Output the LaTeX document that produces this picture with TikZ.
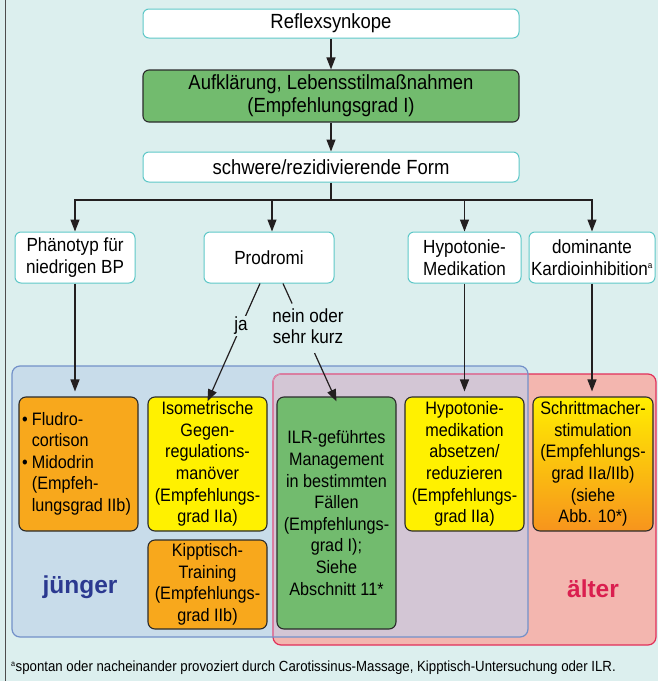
\documentclass[tikz,border=0pt]{standalone}
\usepackage{fontspec}
\setmainfont[FakeStretch=0.9]{Liberation Sans}
\newfontfamily\widefam{Liberation Sans}
\usetikzlibrary{arrows.meta,calc}

\definecolor{bgc}{HTML}{DCEFEE}
\definecolor{tealline}{HTML}{5EC8C8}
\definecolor{boxline}{HTML}{2B2B2B}
\definecolor{arrowc}{HTML}{231F20}
\definecolor{greenf}{HTML}{72BB6E}
\definecolor{orangef}{HTML}{F8A81C}
\definecolor{yellowf}{HTML}{FFF100}
\definecolor{gradtop}{HTML}{FFEE00}
\definecolor{gradbot}{HTML}{F7941D}
\definecolor{bluef}{HTML}{C8DCEA}
\definecolor{blueline}{HTML}{7391C9}
\definecolor{redf}{HTML}{F3B6AF}
\definecolor{redline}{HTML}{E2305A}
\definecolor{redsoft}{HTML}{D98AAE}
\definecolor{mixf}{HTML}{D3C6D5}
\definecolor{youngc}{HTML}{2B3990}
\definecolor{oldc}{HTML}{DA1F4F}
\definecolor{rulec}{HTML}{4D4D4D}

\newcommand\topfont{\fontsize{20.5}{23}\selectfont}
\newcommand\midfont{\fontsize{19}{21.5}\selectfont}
\newcommand\boxfont{\fontsize{18}{21.6}\selectfont}
\newcommand\notefont{\fontsize{14.7}{16}\selectfont}
\newcommand\agefont{\widefam\bfseries\fontsize{24.5}{25}\selectfont}

\tikzset{
  base/.style={rounded corners=6pt, align=center, inner sep=0pt, font=\boxfont},
  tealbox/.style={base, draw=tealline, line width=1pt, fill=white},
  darkbox/.style={base, draw=boxline, line width=1.1pt, rounded corners=7pt},
  arr/.style={draw=arrowc, line width=1.2pt, -{Triangle[length=12pt,width=9pt]}},
  plain/.style={draw=arrowc, line width=1.2pt},
  edgelabel/.style={fill=bgc, inner sep=1pt, align=center, font=\midfont},
  region/.style={rounded corners=8pt, line width=1.2pt},
}

\begin{document}
\begin{tikzpicture}[x=1pt, y=-1pt]
\useasboundingbox (0,0) rectangle (658,681);
\fill[bgc] (0,0) rectangle (658,681);
\draw[rulec, line width=1.5pt] (5.5,0) -- (5.5,681);

% age regions
\fill[bluef, region] (12,366) rectangle (528,637);
\fill[redf, region] (273,374) rectangle (656,645);
\begin{scope}
  \clip[rounded corners=8pt] (12,366) rectangle (528,637);
  \fill[mixf, region] (273,374) rectangle (656,645);
\end{scope}
\draw[redline, region] (273,374) rectangle (656,645);
\begin{scope}
  \clip[rounded corners=8pt] (12,366) rectangle (528,637);
  \draw[redsoft, region] (273,374) rectangle (656,645);
\end{scope}
\draw[blueline, region] (12,366) rectangle (528,637);

% top chain
\node[tealbox, font=\topfont, minimum width=376pt, minimum height=29pt] (reflex) at (331,23.5) {Reflexsynkope};
\node[base, font=\topfont, draw=boxline, line width=1.1pt, fill=greenf, minimum width=376pt, minimum height=52pt] (info) at (331,96)
  {Aufklärung, Lebensstilmaßnahmen\\(Empfehlungsgrad I)};
\node[tealbox, font=\topfont, minimum width=376pt, minimum height=30pt] (severe) at (331,167) {schwere/rezidivierende Form};

% second row
\node[tealbox, font=\midfont, minimum width=120pt, minimum height=51pt] (pheno) at (75,257.5) {Phänotyp für\\niedrigen BP};
\node[tealbox, font=\midfont, minimum width=130pt, minimum height=51pt] (prodromi) at (269,257.5) {Prodromi};
\node[tealbox, font=\midfont, minimum width=113pt, minimum height=51pt] (hypo) at (464.5,257.5) {Hypotonie-\\Medikation};
\node[tealbox, font=\midfont, minimum width=126pt, minimum height=51pt] (domin) at (592,257.5) {dominante\\Kardioinhibition\textsuperscript{\fontsize{9}{9}\selectfont a}};

% therapy boxes
\node[darkbox, fill=orangef, minimum width=119pt, minimum height=134pt] (fludro) at (78.5,464) {};
\node[anchor=west, font=\boxfont, inner sep=0pt] (fludrotext) at (22,464)
  {\begin{tabular}{@{}l@{\hspace{4pt}}l@{}}
   \textbullet & Fludro-\\
               & cortison\\
   \textbullet & Midodrin\\
               & (Empfeh-\\
               & lungsgrad IIb)
   \end{tabular}};
\node[darkbox, fill=yellowf, minimum width=119pt, minimum height=134pt] (iso) at (207.5,464)
  {Isometrische\\Gegen-\\regulations-\\manöver\\(Empfehlungs-\\grad IIa)};
\node[darkbox, fill=orangef, minimum width=119pt, minimum height=89pt] (kipp) at (207.5,584.5)
  {Kipptisch-\\Training\\(Empfehlungs-\\grad IIb)};
\node[darkbox, fill=greenf, minimum width=119pt, minimum height=232pt] (ilr) at (336.5,513)
  {ILR-geführtes\\Management\\in bestimmten\\Fällen\\(Empfehlungs-\\grad I);\\Siehe\\Abschnitt 11*};
\node[darkbox, fill=yellowf, minimum width=119pt, minimum height=134pt] (hypomed) at (464.5,464)
  {Hypotonie-\\medikation\\absetzen/\\reduzieren\\(Empfehlungs-\\grad IIa)};
\node[darkbox, top color=gradtop, middle color=yellow!85!orange, bottom color=gradbot, minimum width=120pt, minimum height=134pt] (pacer) at (593,464)
  {Schrittmacher-\\stimulation\\(Empfehlungs-\\grad IIa/IIb)\\(siehe\\Abb. 10*)};

% age labels
\node[font=\agefont, text=youngc] (young) at (80,587) {jünger};
\node[font=\agefont, text=oldc] (old) at (593,589) {älter};

% connectors
\draw[arr] (reflex) -- (info);
\draw[arr] (info) -- (severe);
\coordinate (split) at (331,200);
\draw[plain] (severe.south) -- (split);
\draw[arr] (split) -| (pheno.north);
\draw[arr] (split) -| ([xshift=3pt]prodromi.north);
\draw[arr] (split) -| (hypo.north);
\draw[arr] (split) -| (domin.north);

\draw[arr, shorten >=5pt] (pheno.south) -- (pheno.south |- fludro.north);
\draw[arr, shorten >=5pt] (hypo.south) -- (hypo.south |- hypomed.north);
\draw[arr, shorten >=5pt] (domin.south) -- (domin.south |- pacer.north);

\coordinate (yesstart) at ([xshift=-9pt]prodromi.south);
\coordinate (yesend) at ([yshift=-5pt]iso.north);
\draw[arr] (yesstart) -- node[edgelabel, pos=0.36] (yes) {ja} (yesend);
\coordinate (nostart) at ([xshift=14pt]prodromi.south);
\coordinate (noend) at ([yshift=-5pt]ilr.north);
\draw[plain] (nostart) -- ($(nostart)!0.17!(noend)$) coordinate (nobreak1);
\draw[arr] ($(nostart)!0.59!(noend)$) coordinate (nobreak2) -- (noend);
\node[font=\midfont, align=center, inner sep=0pt] (no) at (308,326) {nein oder\\sehr kurz};

% footnote
\node[anchor=west, font=\notefont, inner sep=0pt] (note) at (11,668)
  {\textsuperscript{\fontsize{8}{8}\selectfont a}spontan oder nacheinander provoziert durch Carotissinus-Massage, Kipptisch-Untersuchung oder ILR.};
\end{tikzpicture}
\end{document}
